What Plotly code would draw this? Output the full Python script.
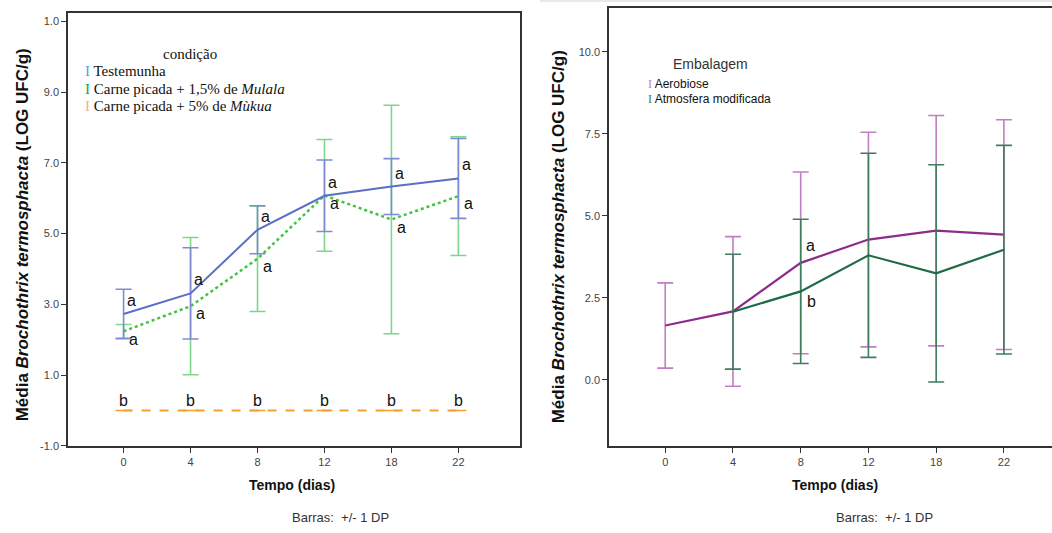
import plotly.graph_objects as go

# ---------------- data ----------------
days = ["0", "4", "8", "12", "18", "22"]

# left chart (condição)
test_mean = [2.73, 3.31, 5.11, 6.07, 6.33, 6.56]
test_sd = [0.70, 1.29, 0.68, 1.01, 0.79, 1.13]
mulala_mean = [2.24, 2.95, 4.29, 6.08, 5.40, 6.06]
mulala_sd = [0.19, 1.94, 1.49, 1.58, 3.23, 1.68]
mukua_mean = [0.0, 0.0, 0.0, 0.0, 0.0, 0.0]
mukua_sd = [0.0, 0.0, 0.0, 0.0, 0.0, 0.0]
test_letters = ["a", "a", "a", "a", "a", "a"]
mulala_letters = ["a", "a", "a", "a", "a", "a"]
mukua_letters = ["b", "b", "b", "b", "b", "b"]

# right chart (Embalagem)
aer_mean = [1.66, 2.09, 3.57, 4.28, 4.55, 4.43]
aer_sd = [1.30, 2.28, 2.77, 3.27, 3.51, 3.50]
atm_mean = [None, 2.08, 2.70, 3.80, 3.25, 3.97]
atm_sd = [None, 1.75, 2.20, 3.11, 3.31, 3.18]

left_yticks = [-1.0, 1.0, 3.0, 5.0, 7.0, 9.0, 11.0]
left_yticktext = ["-1.0", "1.0", "3.0", "5.0", "7.0", "9.0", "1.0"]
right_yticks = [0.0, 2.5, 5.0, 7.5, 10.0]

idx = list(range(len(days)))

# ---------------- styles ----------------
C_BLUE = "#5b6fc4"
C_BLUE_BAR = "#7d8cd2"
C_GREEN = "#3ec43e"
C_GREEN_BAR = "#7fd68a"
C_ORANGE = "#f5a02a"
C_PURPLE = "#8e2c8e"
C_PURPLE_BAR = "#c27ec2"
C_DGREEN = "#1f6b45"
C_DGREEN_BAR = "#3f7d5c"
AXC = "#333333"

fig = go.Figure()

def add_series(x, y, sd, color, barcolor, dash, xa, ya, width=2):
    fig.add_trace(go.Scatter(
        x=x, y=y, mode="lines", xaxis=xa, yaxis=ya,
        line=dict(color=color, width=width, dash=dash),
        error_y=dict(type="data", array=sd, visible=True, color=barcolor,
                     thickness=1.6, width=8),
        showlegend=False, hoverinfo="skip", connectgaps=False))

# left
add_series(idx, mulala_mean, mulala_sd, C_GREEN, C_GREEN_BAR, "dot", "x", "y", 2.5)
add_series(idx, test_mean, test_sd, C_BLUE, C_BLUE_BAR, "solid", "x", "y", 2)
add_series(idx, mukua_mean, mukua_sd, C_ORANGE, C_ORANGE, "dash", "x", "y", 2)
# right
add_series(idx, aer_mean, aer_sd, C_PURPLE, C_PURPLE_BAR, "solid", "x2", "y2", 2.2)
add_series(idx, atm_mean, atm_sd, C_DGREEN, C_DGREEN_BAR, "solid", "x2", "y2", 2.2)

annotations = []
LF = dict(family="Arial, Liberation Sans", size=16, color="#111111")

# letters left chart
for i in idx:
    annotations.append(dict(x=i, y=test_mean[i] + 0.38, xref="x", yref="y",
                            text=test_letters[i], showarrow=False, font=LF,
                            xanchor="center", yanchor="middle", xshift=8))
    annotations.append(dict(x=i, y=mulala_mean[i] - 0.22, xref="x", yref="y",
                            text=mulala_letters[i], showarrow=False, font=LF,
                            xanchor="center", yanchor="middle", xshift=10))
    annotations.append(dict(x=i, y=mukua_mean[i] + 0.28, xref="x", yref="y",
                            text=mukua_letters[i], showarrow=False, font=LF,
                            xanchor="center", yanchor="middle"))

# letters right chart (day 8)
annotations.append(dict(x=2, y=aer_mean[2] + 0.52, xref="x2", yref="y2", text="a",
                        showarrow=False, font=LF, xanchor="center", yanchor="middle", xshift=10))
annotations.append(dict(x=2, y=atm_mean[2] - 0.32, xref="x2", yref="y2", text="b",
                        showarrow=False, font=LF, xanchor="center", yanchor="middle", xshift=11))

# axis titles
YT = "<b>Média <i>Brochothrix termosphacta</i> (LOG UFC/g)</b>"
TF = dict(family="Arial, Liberation Sans", size=17, color="#111111")
annotations.append(dict(x=22 / 1052, y=1 - 238 / 533, xref="paper", yref="paper", text=YT,
                        textangle=-90, showarrow=False, font=TF, xanchor="center", yanchor="middle"))
annotations.append(dict(x=558 / 1052, y=1 - 240 / 533, xref="paper", yref="paper", text=YT,
                        textangle=-90, showarrow=False, font=TF, xanchor="center", yanchor="middle"))
XF = dict(family="Arial, Liberation Sans", size=14, color="#111111")
annotations.append(dict(x=292 / 1052, y=1 - 491 / 533, xref="paper", yref="paper",
                        text="<b>Tempo (dias)</b>", showarrow=False, font=XF,
                        xanchor="center", yanchor="middle"))
annotations.append(dict(x=835 / 1052, y=1 - 491 / 533, xref="paper", yref="paper",
                        text="<b>Tempo (dias)</b>", showarrow=False, font=XF,
                        xanchor="center", yanchor="middle"))
BF = dict(family="Arial, Liberation Sans", size=13, color="#333333")
annotations.append(dict(x=340 / 1052, y=1 - 523 / 533, xref="paper", yref="paper",
                        text="Barras:  +/- 1 DP", showarrow=False, font=BF,
                        xanchor="center", yanchor="middle"))
annotations.append(dict(x=884 / 1052, y=1 - 523 / 533, xref="paper", yref="paper",
                        text="Barras:  +/- 1 DP", showarrow=False, font=BF,
                        xanchor="center", yanchor="middle"))

# left legend (serif)
SF = dict(family="Liberation Serif, Times New Roman", size=15, color="#111111")
annotations.append(dict(x=190 / 1052, y=1 - 55 / 533, xref="paper", yref="paper",
                        text="condição", showarrow=False, font=SF,
                        xanchor="center", yanchor="middle"))
leg_left = [
    ("#5b9bd5", "Testemunha", 72),
    ("#00b050", "Carne picada + 1,5% de <i>Mulala</i>", 90),
    ("#f4b183", "Carne picada + 5% de <i>Mùkua</i>", 107.5),
]
for col, txt, ypx in leg_left:
    annotations.append(dict(x=83 / 1052, y=1 - ypx / 533, xref="paper", yref="paper",
                            text=f"<span style='color:{col}'>I</span> {txt}",
                            showarrow=False, font=SF, xanchor="left", yanchor="middle"))

# right legend
RF = dict(family="Arial, Liberation Sans", size=14, color="#333333")
annotations.append(dict(x=710 / 1052, y=1 - 65 / 533, xref="paper", yref="paper",
                        text="Embalagem", showarrow=False, font=RF,
                        xanchor="center", yanchor="middle"))
RIF = dict(family="Arial, Liberation Sans", size=12, color="#111111")
leg_right = [
    (C_PURPLE_BAR, "Aerobiose", 85),
    (C_DGREEN_BAR, "Atmosfera modificada", 100.5),
]
for col, txt, ypx in leg_right:
    annotations.append(dict(x=646 / 1052, y=1 - ypx / 533, xref="paper", yref="paper",
                            text=f"<span style='color:{col};font-family:Liberation Serif'>I</span> {txt}",
                            showarrow=False, font=RIF, xanchor="left", yanchor="middle"))

TICKF = dict(family="Arial, Liberation Sans", size=11, color="#444444")
axis_common = dict(showgrid=False, zeroline=False, showline=True, linecolor=AXC, linewidth=1.5,
                   ticks="outside", ticklen=5, tickcolor=AXC, tickwidth=1.2, tickfont=TICKF)

fig.update_layout(
    width=1052, height=533,
    margin=dict(l=0, r=0, t=0, b=0),
    paper_bgcolor="white", plot_bgcolor="white",
    showlegend=False,
    annotations=annotations,
    shapes=[dict(type="line", xref="paper", yref="paper", x0=540 / 1052, x1=1,
                 y0=1 - 1 / 533, y1=1 - 1 / 533, line=dict(color="#e2e2e2", width=1.5))],
    xaxis=dict(domain=[68 / 1052, 520 / 1052], range=[-0.83, 5.92], anchor="y",
               tickvals=idx, ticktext=days, mirror=True, **axis_common),
    yaxis=dict(domain=[82 / 533, 520 / 533], range=[-1.0, 11.24], anchor="x",
               tickvals=left_yticks, ticktext=left_yticktext, mirror=True, **axis_common),
    xaxis2=dict(domain=[609 / 1052, 1.0], range=[-0.83, 5.71], anchor="y2",
                tickvals=idx, ticktext=days, mirror=True, **axis_common),
    yaxis2=dict(domain=[82 / 533, 525 / 533], range=[-2.01, 11.34], anchor="x2",
                tickvals=right_yticks, ticktext=[f"{v:.1f}" for v in right_yticks],
                mirror=False, **axis_common),
)

fig.write_html("out.html")
